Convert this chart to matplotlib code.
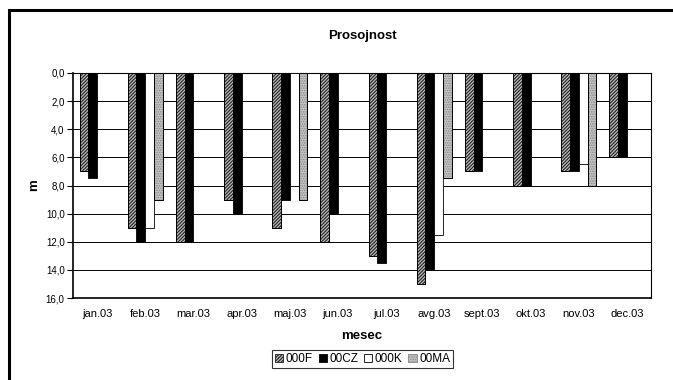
import matplotlib.pyplot as plt
import numpy as np
from matplotlib.patches import Rectangle
from matplotlib.ticker import FuncFormatter

plt.rcParams['font.family'] = ['Liberation Sans', 'DejaVu Sans']
plt.rcParams['hatch.linewidth'] = 0.8

# prosojnost (m) po mesecih, za štiri postaje
meseci = ['jan.03', 'feb.03', 'mar.03', 'apr.03', 'maj.03', 'jun.03',
          'jul.03', 'avg.03', 'sept.03', 'okt.03', 'nov.03', 'dec.03']
s_000F = [7, 11, 12, 9, 11, 12, 13, 15, 7, 8, 7, 6]
s_00CZ = [7.5, 12, 12, 10, 9, 10, 13.5, 14, 7, 8, 7, 6]
s_000K = [np.nan, 11, np.nan, np.nan, 8, np.nan, np.nan, 11.5, np.nan, np.nan, 6.5, np.nan]
s_00MA = [np.nan, 9, np.nan, np.nan, 9, np.nan, np.nan, 7.5, np.nan, np.nan, 8, np.nan]

fig = plt.figure(figsize=(6.73, 3.80), dpi=100)
ax = fig.add_axes([73/673, 1 - 298/380, (651-73)/673, (298-73)/380])

x = np.arange(len(meseci))
w = 1 / 5.5
styles = [
    ('000F', s_000F, dict(facecolor='#bbbbbb', hatch='//////////', edgecolor='#222222')),
    ('00CZ', s_00CZ, dict(facecolor='black', edgecolor='black')),
    ('000K', s_000K, dict(facecolor='white', edgecolor='black')),
    ('00MA', s_00MA, dict(facecolor='#c4c4c4', hatch='.......', edgecolor='#888888')),
]
handles = []
for i, (name, vals, st) in enumerate(styles):
    b = ax.bar(x + (i - 1.5) * w, vals, width=w, linewidth=0.6, label=name, zorder=3, **st)
    if st.get('hatch'):
        # obroba v črni barvi čez šrafuro
        ax.bar(x + (i - 1.5) * w, vals, width=w, facecolor='none', edgecolor='black',
               linewidth=0.7, zorder=4)
    handles.append(b)

ax.set_xlim(-0.5, len(meseci) - 0.5)
ax.set_ylim(16, 0)
ax.set_yticks(np.arange(0, 17, 2))
ax.yaxis.set_major_formatter(FuncFormatter(lambda v, p: f'{v:.1f}'.replace('.', ',')))
ax.set_xticks(x)
ax.set_xticklabels(meseci)
ax.tick_params(axis='x', length=0, labelsize=8, pad=8)
ax.tick_params(axis='y', length=4, width=0.8, labelsize=7, pad=2)
ax.grid(axis='y', color='black', linewidth=0.7, zorder=0)
for s in ax.spines.values():
    s.set_linewidth(0.8)
ax.spines['left'].set_linewidth(1.2)
ax.spines['bottom'].set_linewidth(1.2)

fig.text(362/673, 1 - 336/380, 'mesec', ha='center', va='center',
         fontsize=9.5, fontweight='bold')
fig.text(34/673, 1 - 185/380, 'm', ha='center', va='center', rotation=90,
         fontsize=9.5, fontweight='bold')
fig.text(362/673, 1 - 36/380, 'Prosojnost', ha='center', va='center',
         fontsize=9.5, fontweight='bold')

leg = fig.legend(handles=handles, loc='center', bbox_to_anchor=(362.5/673, 1 - 359/380),
                 ncol=4, fontsize=8.5, frameon=True, fancybox=False, edgecolor='black',
                 handlelength=0.7, handleheight=0.7, handletextpad=0.2, columnspacing=0.5,
                 borderpad=0.25, borderaxespad=0)
leg.get_frame().set_linewidth(0.8)

# okvir okrog celotnega grafikona
fig.patches.append(Rectangle((9/673, -0.1), 1.2, 1 - 10/380 + 0.1, transform=fig.transFigure,
                             facecolor='none', edgecolor='black', linewidth=2.2))

fig.savefig('out.png', dpi=100)
